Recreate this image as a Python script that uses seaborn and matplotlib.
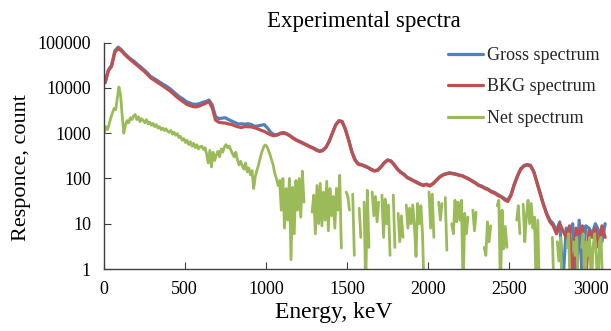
import numpy as np
import pandas as pd
import matplotlib
matplotlib.use("Agg")
import matplotlib.pyplot as plt
import seaborn as sns
from matplotlib.ticker import FixedLocator, FixedFormatter, NullLocator

# Energy channels (keV)
energy = np.arange(10, 3100, 20)        # gross / background channels
energy_net = np.arange(5, 3100, 10)     # net spectrum channels

gross = [
    13500, 25000, 32000, 66000, 80000, 70000, 58000, 49500, 43000, 38500,
    33000, 29000, 25000, 21500, 18000, 16300, 14700, 13200, 11900, 10800,
    9600, 8300, 7200, 6300, 5700, 5000, 4700, 4400, 4350, 4500,
    4800, 5000, 5400, 4200, 2350, 2100, 2150, 2200, 2000, 1850,
    1720, 1600, 1620, 1580, 1620, 1560, 1420, 1450, 1500, 1550,
    1300, 1050, 930, 930, 1010, 1040, 980, 880, 780, 710,
    660, 610, 560, 515, 480, 440, 405, 420, 490, 670,
    1020, 1540, 1900, 1830, 1230, 720, 390, 258, 210, 203,
    190, 176, 160, 149, 156, 185, 226, 258, 246, 205,
    164, 140, 125, 107, 99, 90, 83, 76, 72, 75,
    70, 78, 92, 109, 121, 128, 134, 130, 126, 120,
    116, 107, 99, 90, 81, 72, 68, 62, 58, 52,
    49, 44, 40, 36, 33, 44, 75, 115, 165, 194,
    204, 196, 145, 83, 47, 27, 17, 12, 10, 7,
    11, 0.5, 8, 6, 10, 0.5, 12, 0.5, 9, 8,
    6, 10, 7, 4, 10,
]

bkg = [
    13000, 24000, 30000, 62000, 74000, 66000, 55000, 47000, 41000, 36000,
    31000, 27000, 23500, 20000, 16800, 15000, 13500, 12100, 10800, 9700,
    8600, 7400, 6400, 5600, 5000, 4400, 4100, 3900, 3800, 4000,
    4300, 4600, 5000, 3600, 1950, 1750, 1700, 1680, 1600, 1560,
    1450, 1380, 1340, 1400, 1390, 1380, 1320, 1250, 1160, 1100,
    1000, 920, 880, 910, 980, 1000, 950, 860, 760, 690,
    640, 590, 545, 500, 465, 425, 395, 410, 480, 650,
    1000, 1500, 1850, 1780, 1200, 700, 380, 250, 205, 198,
    185, 172, 155, 145, 152, 180, 220, 252, 240, 200,
    160, 136, 122, 104, 96, 88, 81, 74, 70, 73,
    68, 76, 90, 106, 118, 125, 131, 127, 123, 117,
    113, 104, 96, 87, 79, 70, 66, 60, 56, 50,
    47, 42, 39, 34, 31, 42, 72, 112, 160, 188,
    198, 190, 140, 80, 45, 26, 16, 11, 9, 6,
    10, 7, 5, 9, 0.5, 8, 6, 9, 0.5, 7,
    5, 8, 3, 9, 5,
]

# Net = gross - background; negative channels (-1) are not drawn on the log axis
net = [
    1000, 1400, 1200, 1600, 2200, 2800, 3500, 3300, 6000, 10500, 7000, 2500, 1000, 1500, 1900, 1700, 2200, 2000, 2400, 2600,
    2000, 2300, 1800, 2100, 1900, 1700, 2000, 1600, 1750, 1500, 1650, 1400, 1550, 1300, 1400, 1200, 1300, 1150, 1250, 1100,
    1050, 1150, 950, 1050, 900, 980, 800, 850, 700, 760, 620, 700, 560, 650, 520, 600, 480, 560, 450, 500,
    520, 440, 480, 350, 220, 420, 180, 380, 250, 330, 400, 300, 450, 380, 500, 560, 480, 520, 420, 350,
    300, 380, 260, 200, 240, 190, 160, 220, 140, 170, 120, 150, 60, 110, 150, 200, 280, 380, 480, 550,
    520, 430, 340, 260, 200, 130, 100, 70, 90, 20, 100, 8, 60, 12, 100, 1.6, 64, 6, 90, 20,
    100, 14, 145, 30, -1, 47, -1, -1, 18, 43, 6, 70, 10, 78, 9, 50, 12, 87, 7, 60,
    15, 40, 8, 60, 20, 118, 2.9, -1, -1, 50, 40, 20, -1, 45, 2, -1, -1, 22, 5, -1,
    30, 0.3, 55, 3, -1, 50, 15, 40, 11, 30, -1, 43, 5, 35, 10, 26, 2, -1, 43, 3,
    -1, 17, 4, 15, 5, -1, 26, 8, 22, 10, 26, 9, 1.9, 28, 10, 25, 6, 0.3, -1, -1,
    50, 8, 45, 5, -1, -1, 30, 12, 28, -1, 38, 2.6, -1, -1, 10, 6, 33, 11, 30, 12,
    33, 0.3, 17, 6, 14, -1, -1, 20, 7, 18, -1, -1, -1, -1, 3, 2, 11, 4, 9, -1,
    -1, -1, 25, 33, 0.3, 20, 2.8, 8.7, 3, -1, -1, -1, -1, -1, 12, 25, 6, -1, 27, 4,
    15, 33, 10, 28, 8, 14, 0.3, 12, 0.3, -1, -1, -1, -1, -1, -1, -1, 5, 0.3, -1, 4,
    1.5, 5, 0.3, -1, -1, 3, 6, 0.3, -1, 4, 2, 5, 0.3, -1, 3, 6, 0.3, 4, 2, 5,
    0.3, 3, 6, 2, 0.3, 4, 5, 0.3, -1, -1,
]

series_names = ["Gross spectrum", "BKG spectrum", "Net spectrum"]
series_colors = ["#4F81BD", "#C0504D", "#9BBB59"]

xtick_vals = [0, 500, 1000, 1500, 2000, 2500, 3000]
xtick_labels = ["0", "500", "1000", "1500", "2000", "2500", "3000"]
ytick_vals = [1, 10, 100, 1000, 10000, 100000]
ytick_labels = ["1", "10", "100", "1000", "10000", "100000"]

sns.set_theme(style="white")
plt.rcParams['font.family'] = ['Liberation Serif', 'DejaVu Serif']

W, H = 611, 331
fig = plt.figure(figsize=(W / 100, H / 100), dpi=100)
left, right, top, bottom = 103.5, 611, 42.7, 269
ax = fig.add_axes([left / W, 1 - bottom / H, (right - left) / W, (bottom - top) / H])

frames = [
    pd.DataFrame({"Energy": energy, "Count": gross}),
    pd.DataFrame({"Energy": energy, "Count": bkg}),
    pd.DataFrame({"Energy": energy_net, "Count": net}),
]
widths = [2.3, 2.3, 2.0]
for name, df, col, lw in zip(series_names, frames, series_colors, widths):
    sns.lineplot(data=df, x="Energy", y="Count", ax=ax, color=col, lw=lw,
                 label=name, estimator=None, sort=False)

ax.set_yscale('log', nonpositive='mask')
ax.set_ylim(1, 1e5)
ax.set_xlim(0, 3126)
ax.xaxis.set_major_locator(FixedLocator(xtick_vals))
ax.xaxis.set_major_formatter(FixedFormatter(xtick_labels))
ax.yaxis.set_major_locator(FixedLocator(ytick_vals))
ax.yaxis.set_major_formatter(FixedFormatter(ytick_labels))
ax.yaxis.set_minor_locator(NullLocator())
ax.xaxis.set_minor_locator(NullLocator())

for s in ["top", "right"]:
    ax.spines[s].set_visible(False)
for s in ["left", "bottom"]:
    ax.spines[s].set_color("#404040")
    ax.spines[s].set_linewidth(1.0)
ax.tick_params(axis="both", which="major", direction="in", length=5, width=0.8,
               color="#404040", labelcolor="black", labelsize=13, pad=9)
ax.tick_params(axis="y", left=True)
ax.tick_params(axis="x", bottom=True)

ax.set_xlabel("Energy, keV", fontsize=17, color="black")
ax.set_ylabel("Responce, count", fontsize=16, color="black")
ax.xaxis.set_label_coords((333.5 - left) / (right - left), (bottom - 302) / (bottom - top))
ax.yaxis.set_label_coords((31 - left) / (right - left), (bottom - 168) / (bottom - top))

fig.text(364 / W, 1 - 22 / H, "Experimental spectra", ha="center", va="center",
         fontsize=16.5, color="black")

leg = ax.legend(loc="upper left", bbox_to_anchor=(448 / W, 1 - 47 / H),
                bbox_transform=fig.transFigure, frameon=False, fontsize=13,
                handlelength=1.95, handletextpad=0.2, labelspacing=0.8,
                borderpad=0, borderaxespad=0)
for h in leg.get_lines():
    h.set_linewidth(2.3)

fig.savefig("out.png", dpi=100)
